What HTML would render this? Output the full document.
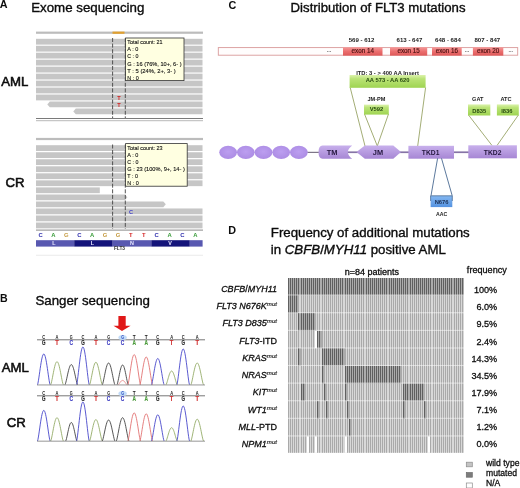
<!DOCTYPE html>
<html lang="en">
<head>
<meta charset="utf-8">
<title>FLT3 mutations figure</title>
<style>
html,body{margin:0;padding:0;background:#fff;}
body{width:520px;height:488px;overflow:hidden;position:relative;}
svg{position:absolute;left:0;top:0;display:block;filter:blur(0.45px);}
text{font-family:"Liberation Sans",sans-serif;fill:#0c0c0c;}
.hv{stroke:#0c0c0c;stroke-width:0.3px;}
.hv2{stroke:#0c0c0c;stroke-width:0.3px;}
.b{font-weight:bold;}
.i{font-style:italic;}
.t13{font-size:13.3px;stroke:#0c0c0c;stroke-width:0.36px;}
.lab{font-size:13.2px;stroke:#0c0c0c;stroke-width:0.55px;}
.tip{font-size:6.1px;fill:#111;stroke:#111;stroke-width:0.12px;}
.seq{font-size:5.9px;font-weight:bold;text-anchor:middle;}
.aa{font-size:5.4px;font-weight:bold;fill:#e8e8ff;text-anchor:middle;}
.ex{font-size:6.3px;text-anchor:middle;fill:#4a1010;stroke:#4a1010;stroke-width:0.15px;}
.exn{font-size:6.1px;font-weight:bold;text-anchor:middle;fill:#222;}
.gb{font-size:5.8px;font-weight:bold;text-anchor:middle;fill:#264a10;}
.cod{font-size:5.6px;font-weight:bold;text-anchor:middle;fill:#222;}
.dom{font-size:7.4px;font-weight:bold;text-anchor:middle;fill:#24163e;}
.gl{font-size:9px;text-anchor:end;stroke:#0c0c0c;stroke-width:0.28px;}
.fq{font-size:9.1px;text-anchor:end;stroke:#0c0c0c;stroke-width:0.28px;}
.sup{font-size:6.1px;font-style:italic;stroke-width:0.12px;}
.lg{font-size:8.6px;stroke:#0c0c0c;stroke-width:0.28px;}
.sq{font-size:5.2px;text-anchor:middle;font-weight:bold;}
</style>
</head>
<body>
<svg width="520" height="488" viewBox="0 0 520 488">
<defs>
<linearGradient id="gGreen" x1="0" y1="0" x2="0" y2="1"><stop offset="0" stop-color="#dcf2ac"/><stop offset="0.3" stop-color="#bae376"/><stop offset="1" stop-color="#9fd452"/></linearGradient>
<linearGradient id="gRed" x1="0" y1="0" x2="0" y2="1"><stop offset="0" stop-color="#f59898"/><stop offset="0.5" stop-color="#eb6e6e"/><stop offset="1" stop-color="#dd5858"/></linearGradient>
<linearGradient id="gBlue" x1="0" y1="0" x2="0" y2="1"><stop offset="0" stop-color="#84b8f2"/><stop offset="1" stop-color="#5592e0"/></linearGradient>
<linearGradient id="gPur" x1="0" y1="0" x2="0" y2="1"><stop offset="0" stop-color="#c8b0ec"/><stop offset="1" stop-color="#a686d4"/></linearGradient>
<radialGradient id="gEll" cx="0.5" cy="0.45" r="0.6"><stop offset="0" stop-color="#bc9ef0"/><stop offset="1" stop-color="#ab8be3"/></radialGradient>
</defs>
<rect x="0" y="0" width="520" height="488" fill="#ffffff"/>

<text x="-0.2" y="8.4" class="b" style="font-size:10.8px">A</text>
<text x="31.2" y="11.6" class="t13">Exome sequencing</text>
<text x="1.2" y="86.3" class="lab">AML</text>
<text x="5.6" y="187.3" class="lab">CR</text>
<rect x="36" y="31.6" width="167" height="2.2" fill="#bcbcbc"/>
<rect x="112.5" y="31.6" width="12" height="2.2" fill="#e0a030"/>
<rect x="36" y="38.8" width="166.5" height="5.8" fill="#c6c6c6"/>
<rect x="36" y="45.77" width="166.5" height="5.8" fill="#c6c6c6"/>
<rect x="36" y="52.74" width="166.5" height="5.8" fill="#c6c6c6"/>
<rect x="36" y="59.71" width="166.5" height="5.8" fill="#c6c6c6"/>
<rect x="36" y="66.68" width="166.5" height="5.8" fill="#c6c6c6"/>
<rect x="36" y="73.65" width="166.5" height="5.8" fill="#c6c6c6"/>
<rect x="36" y="80.62" width="166.5" height="5.8" fill="#c6c6c6"/>
<rect x="36" y="87.59" width="166.5" height="5.8" fill="#c6c6c6"/>
<rect x="36" y="94.56" width="166.5" height="5.8" fill="#c6c6c6"/>
<path d="M49.8,101.53 L202.5,101.53 L202.5,107.33 L49.8,107.33 L47.3,104.43 Z" fill="#c6c6c6"/>
<path d="M75.8,108.5 L202.5,108.5 L202.5,114.3 L75.8,114.3 L73.3,111.4 Z" fill="#c6c6c6"/>
<rect x="36" y="118" width="167" height="1" fill="#7a7a7a"/>
<rect x="36" y="120.2" width="167" height="1" fill="#b8b8b8"/>
<line x1="112.6" y1="38" x2="112.6" y2="118" stroke="#444" stroke-width="0.9" stroke-dasharray="4 1.6"/>
<line x1="125.3" y1="38" x2="125.3" y2="118" stroke="#444" stroke-width="0.9" stroke-dasharray="4 1.6"/>
<text x="119" y="99.6" class="seq" style="fill:#d02020;font-size:5.6px">T</text>
<text x="119" y="106.6" class="seq" style="fill:#d02020;font-size:5.6px">T</text>
<rect x="125.6" y="38" width="58.4" height="42.6" fill="#ffffe1" stroke="#333" stroke-width="0.8"/>
<text x="127.3" y="44.30" class="tip" textLength="35.2" lengthAdjust="spacingAndGlyphs">Total count: 21</text>
<text x="127.3" y="51.38" class="tip" textLength="11" lengthAdjust="spacingAndGlyphs">A : 0</text>
<text x="127.3" y="58.46" class="tip" textLength="11.2" lengthAdjust="spacingAndGlyphs">C : 0</text>
<text x="127.3" y="65.54" class="tip" textLength="54.2" lengthAdjust="spacingAndGlyphs">G : 16 (76%, 10+, 6- )</text>
<text x="127.3" y="72.62" class="tip" textLength="48.5" lengthAdjust="spacingAndGlyphs">T : 5 (24%, 2+, 3- )</text>
<text x="127.3" y="79.70" class="tip" textLength="11.4" lengthAdjust="spacingAndGlyphs">N : 0</text>
<rect x="36" y="137.9" width="167" height="2.2" fill="#bcbcbc"/>
<rect x="36" y="145.2" width="166.5" height="5.8" fill="#c6c6c6"/>
<rect x="36" y="152.23" width="166.5" height="5.8" fill="#c6c6c6"/>
<rect x="36" y="159.26" width="166.5" height="5.8" fill="#c6c6c6"/>
<rect x="36" y="166.29" width="166.5" height="5.8" fill="#c6c6c6"/>
<rect x="36" y="173.32" width="166.5" height="5.8" fill="#c6c6c6"/>
<rect x="36" y="180.35" width="166.5" height="5.8" fill="#c6c6c6"/>
<rect x="36" y="187.38" width="63.8" height="5.8" fill="#c6c6c6"/>
<path d="M36,194.41 L124.9,194.41 L127.4,197.31 L124.9,200.21 L36,200.21 Z" fill="#c6c6c6"/>
<path d="M36,201.44 L163.3,201.44 L165.8,204.34 L163.3,207.24 L36,207.24 Z" fill="#c6c6c6"/>
<rect x="36" y="208.47" width="166.5" height="5.8" fill="#c6c6c6"/>
<rect x="36" y="215.5" width="166.5" height="5.8" fill="#c6c6c6"/>
<rect x="36" y="222.53" width="166.5" height="5.8" fill="#c6c6c6"/>
<line x1="112.6" y1="144.5" x2="112.6" y2="229" stroke="#444" stroke-width="0.9" stroke-dasharray="4 1.6"/>
<line x1="125.3" y1="144.5" x2="125.3" y2="229" stroke="#444" stroke-width="0.9" stroke-dasharray="4 1.6"/>
<text x="131" y="213.6" class="seq" style="fill:#4040c8;font-size:5.6px">C</text>
<rect x="125.6" y="143.6" width="61.6" height="42.6" fill="#ffffe1" stroke="#333" stroke-width="0.8"/>
<text x="127.3" y="149.90" class="tip" textLength="35.2" lengthAdjust="spacingAndGlyphs">Total count: 23</text>
<text x="127.3" y="156.98" class="tip" textLength="11" lengthAdjust="spacingAndGlyphs">A : 0</text>
<text x="127.3" y="164.06" class="tip" textLength="11.2" lengthAdjust="spacingAndGlyphs">C : 0</text>
<text x="127.3" y="171.14" class="tip" textLength="57.5" lengthAdjust="spacingAndGlyphs">G : 23 (100%, 9+, 14- )</text>
<text x="127.3" y="178.22" class="tip" textLength="10.6" lengthAdjust="spacingAndGlyphs">T : 0</text>
<text x="127.3" y="185.30" class="tip" textLength="11.4" lengthAdjust="spacingAndGlyphs">N : 0</text>
<rect x="36" y="229.6" width="167" height="1" fill="#8a8a8a"/>
<text x="40.6" y="237.2" class="seq" style="fill:#2c2cac">C</text>
<text x="53.5" y="237.2" class="seq" style="fill:#3a9c3a">A</text>
<text x="66.4" y="237.2" class="seq" style="fill:#c49a40">G</text>
<text x="79.3" y="237.2" class="seq" style="fill:#2c2cac">C</text>
<text x="92.2" y="237.2" class="seq" style="fill:#3a9c3a">A</text>
<text x="105.1" y="237.2" class="seq" style="fill:#c49a40">G</text>
<text x="118.0" y="237.2" class="seq" style="fill:#c49a40">G</text>
<text x="130.9" y="237.2" class="seq" style="fill:#d42020">T</text>
<text x="143.8" y="237.2" class="seq" style="fill:#d42020">T</text>
<text x="156.7" y="237.2" class="seq" style="fill:#2c2cac">C</text>
<text x="169.6" y="237.2" class="seq" style="fill:#3a9c3a">A</text>
<text x="182.5" y="237.2" class="seq" style="fill:#2c2cac">C</text>
<text x="195.4" y="237.2" class="seq" style="fill:#3a9c3a">A</text>
<rect x="36" y="240.2" width="38.2" height="6.4" fill="#5858b0"/>
<text x="54" y="245.4" class="aa">L</text>
<rect x="74.2" y="240.2" width="38.5" height="6.4" fill="#14147a"/>
<text x="92.5" y="245.4" class="aa">L</text>
<rect x="112.7" y="240.2" width="38.6" height="6.4" fill="#5858b0"/>
<text x="132" y="245.4" class="aa">N</text>
<rect x="151.3" y="240.2" width="38.5" height="6.4" fill="#14147a"/>
<text x="170" y="245.4" class="aa">V</text>
<rect x="189.8" y="240.2" width="12.8" height="6.4" fill="#5858b0"/>
<text x="119.5" y="250.2" style="font-size:4.8px;fill:#333;text-anchor:middle" class="b">FLT3</text>
<rect x="36" y="254.8" width="167" height="0.8" fill="#e4e4e4"/>
<text x="0.1" y="301.8" class="b" style="font-size:10.6px">B</text>
<text x="35.4" y="304.6" class="t13">Sanger sequencing</text>
<text x="1.7" y="372.4" class="lab">AML</text>
<text x="6.8" y="427.4" class="lab">CR</text>
<path d="M118.4,316 L125.7,316 L125.7,325.8 L130.6,325.8 L122,331 L113.5,325.8 L118.4,325.8 Z" fill="#e01818"/>
<rect x="37" y="339.3" width="168" height="1" fill="#777"/>
<ellipse cx="122.6" cy="337.40000000000003" rx="4.2" ry="2.5" fill="#c2dbf8"/>
<text x="43.8" y="339.3" class="sq" textLength="2.9" lengthAdjust="spacingAndGlyphs" style="fill:#222;font-size:5.2px">C</text>
<text x="43.8" y="345.2" class="sq" textLength="3.5" lengthAdjust="spacingAndGlyphs" style="fill:#222;font-size:6.4px;stroke:#222;stroke-width:0.15px">G</text>
<text x="57" y="339.3" class="sq" textLength="2.9" lengthAdjust="spacingAndGlyphs" style="fill:#222;font-size:5.2px">A</text>
<text x="57" y="345.2" class="sq" textLength="3.5" lengthAdjust="spacingAndGlyphs" style="fill:#d03030;font-size:6.4px;stroke:#d03030;stroke-width:0.15px">T</text>
<text x="71.3" y="339.3" class="sq" textLength="2.9" lengthAdjust="spacingAndGlyphs" style="fill:#222;font-size:5.2px">G</text>
<text x="71.3" y="345.2" class="sq" textLength="3.5" lengthAdjust="spacingAndGlyphs" style="fill:#3a3ac0;font-size:6.4px;stroke:#3a3ac0;stroke-width:0.15px">C</text>
<text x="82.9" y="339.3" class="sq" textLength="2.9" lengthAdjust="spacingAndGlyphs" style="fill:#222;font-size:5.2px">C</text>
<text x="82.9" y="345.2" class="sq" textLength="3.5" lengthAdjust="spacingAndGlyphs" style="fill:#222;font-size:6.4px;stroke:#222;stroke-width:0.15px">G</text>
<text x="95.9" y="339.3" class="sq" textLength="2.9" lengthAdjust="spacingAndGlyphs" style="fill:#222;font-size:5.2px">A</text>
<text x="95.9" y="345.2" class="sq" textLength="3.5" lengthAdjust="spacingAndGlyphs" style="fill:#d03030;font-size:6.4px;stroke:#d03030;stroke-width:0.15px">T</text>
<text x="108.6" y="339.3" class="sq" textLength="2.9" lengthAdjust="spacingAndGlyphs" style="fill:#222;font-size:5.2px">G</text>
<text x="108.6" y="345.2" class="sq" textLength="3.5" lengthAdjust="spacingAndGlyphs" style="fill:#3a3ac0;font-size:6.4px;stroke:#3a3ac0;stroke-width:0.15px">C</text>
<text x="122.6" y="339.3" class="sq" textLength="2.9" lengthAdjust="spacingAndGlyphs" style="fill:#3050c0;font-size:5.2px">G</text>
<text x="122.6" y="345.2" class="sq" textLength="3.5" lengthAdjust="spacingAndGlyphs" style="fill:#3a3ac0;font-size:6.4px;stroke:#3a3ac0;stroke-width:0.15px">C</text>
<text x="134.2" y="339.3" class="sq" textLength="2.9" lengthAdjust="spacingAndGlyphs" style="fill:#222;font-size:5.2px">T</text>
<text x="134.2" y="345.2" class="sq" textLength="3.5" lengthAdjust="spacingAndGlyphs" style="fill:#4a9a3a;font-size:6.4px;stroke:#4a9a3a;stroke-width:0.15px">A</text>
<text x="146.2" y="339.3" class="sq" textLength="2.9" lengthAdjust="spacingAndGlyphs" style="fill:#222;font-size:5.2px">T</text>
<text x="146.2" y="345.2" class="sq" textLength="3.5" lengthAdjust="spacingAndGlyphs" style="fill:#4a9a3a;font-size:6.4px;stroke:#4a9a3a;stroke-width:0.15px">A</text>
<text x="157.8" y="339.3" class="sq" textLength="2.9" lengthAdjust="spacingAndGlyphs" style="fill:#222;font-size:5.2px">C</text>
<text x="157.8" y="345.2" class="sq" textLength="3.5" lengthAdjust="spacingAndGlyphs" style="fill:#222;font-size:6.4px;stroke:#222;stroke-width:0.15px">G</text>
<text x="171.6" y="339.3" class="sq" textLength="2.9" lengthAdjust="spacingAndGlyphs" style="fill:#222;font-size:5.2px">A</text>
<text x="171.6" y="345.2" class="sq" textLength="3.5" lengthAdjust="spacingAndGlyphs" style="fill:#d03030;font-size:6.4px;stroke:#d03030;stroke-width:0.15px">T</text>
<text x="183.2" y="339.3" class="sq" textLength="2.9" lengthAdjust="spacingAndGlyphs" style="fill:#222;font-size:5.2px">C</text>
<text x="183.2" y="345.2" class="sq" textLength="3.5" lengthAdjust="spacingAndGlyphs" style="fill:#222;font-size:6.4px;stroke:#222;stroke-width:0.15px">G</text>
<text x="197.2" y="339.3" class="sq" textLength="2.9" lengthAdjust="spacingAndGlyphs" style="fill:#222;font-size:5.2px">A</text>
<text x="197.2" y="345.2" class="sq" textLength="3.5" lengthAdjust="spacingAndGlyphs" style="fill:#d03030;font-size:6.4px;stroke:#d03030;stroke-width:0.15px">T</text>
<polyline points="37.50,384.80 37.95,383.20 38.40,380.75 38.85,377.90 39.30,374.82 39.75,371.66 40.20,368.52 40.65,365.51 41.10,362.71 41.55,360.20 42.00,358.04 42.45,356.31 42.90,355.04 43.35,354.26 43.80,354.00 44.25,354.26 44.70,355.04 45.15,356.31 45.60,358.04 46.05,360.20 46.50,362.71 46.95,365.51 47.40,368.52 47.85,371.66 48.30,374.82 48.75,377.90 49.20,380.75 49.65,383.20 50.10,384.80" fill="none" stroke="#3c3cc8" stroke-width="0.85" stroke-linejoin="round"/>
<polyline points="50.70,384.80 51.15,383.60 51.60,381.76 52.05,379.62 52.50,377.32 52.95,374.95 53.40,372.59 53.85,370.33 54.30,368.23 54.75,366.35 55.20,364.73 55.65,363.43 56.10,362.48 56.55,361.90 57.00,361.70 57.45,361.90 57.90,362.48 58.35,363.43 58.80,364.73 59.25,366.35 59.70,368.23 60.15,370.33 60.60,372.59 61.05,374.95 61.50,377.32 61.95,379.62 62.40,381.76 62.85,383.60 63.30,384.80" fill="none" stroke="#8ea65e" stroke-width="0.85" stroke-linejoin="round"/>
<polyline points="65.00,384.80 65.45,383.75 65.90,382.14 66.35,380.27 66.80,378.26 67.25,376.18 67.70,374.12 68.15,372.15 68.60,370.31 69.05,368.66 69.50,367.25 69.95,366.12 70.40,365.28 70.85,364.77 71.30,364.60 71.75,364.77 72.20,365.28 72.65,366.12 73.10,367.25 73.55,368.66 74.00,370.31 74.45,372.15 74.90,374.12 75.35,376.18 75.80,378.26 76.25,380.27 76.70,382.14 77.15,383.75 77.60,384.80" fill="none" stroke="#383838" stroke-width="0.85" stroke-linejoin="round"/>
<polyline points="76.60,384.80 77.05,382.83 77.50,379.83 77.95,376.33 78.40,372.56 78.85,368.67 79.30,364.82 79.75,361.12 80.20,357.69 80.65,354.60 81.10,351.96 81.55,349.84 82.00,348.27 82.45,347.32 82.90,347.00 83.35,347.32 83.80,348.27 84.25,349.84 84.70,351.96 85.15,354.60 85.60,357.69 86.05,361.12 86.50,364.82 86.95,368.67 87.40,372.56 87.85,376.33 88.30,379.83 88.75,382.83 89.20,384.80" fill="none" stroke="#3c3cc8" stroke-width="0.85" stroke-linejoin="round"/>
<polyline points="89.60,384.80 90.05,383.63 90.50,381.84 90.95,379.76 91.40,377.51 91.85,375.20 92.30,372.91 92.75,370.71 93.20,368.66 93.65,366.83 94.10,365.25 94.55,363.99 95.00,363.06 95.45,362.49 95.90,362.30 96.35,362.49 96.80,363.06 97.25,363.99 97.70,365.25 98.15,366.83 98.60,368.66 99.05,370.71 99.50,372.91 99.95,375.20 100.40,377.51 100.85,379.76 101.30,381.84 101.75,383.63 102.20,384.80" fill="none" stroke="#8ea65e" stroke-width="0.85" stroke-linejoin="round"/>
<polyline points="102.30,384.80 102.75,383.67 103.20,381.93 103.65,379.91 104.10,377.74 104.55,375.50 105.00,373.28 105.45,371.15 105.90,369.16 106.35,367.39 106.80,365.86 107.25,364.64 107.70,363.73 108.15,363.18 108.60,363.00 109.05,363.18 109.50,363.73 109.95,364.64 110.40,365.86 110.85,367.39 111.30,369.16 111.75,371.15 112.20,373.28 112.65,375.50 113.10,377.74 113.55,379.91 114.00,381.93 114.45,383.67 114.90,384.80" fill="none" stroke="#383838" stroke-width="0.85" stroke-linejoin="round"/>
<polyline points="117.00,384.80 117.40,383.77 117.80,382.20 118.20,380.36 118.60,378.39 119.00,376.35 119.40,374.34 119.80,372.40 120.20,370.60 120.60,368.98 121.00,367.60 121.40,366.49 121.80,365.67 122.20,365.17 122.60,365.00 123.00,365.17 123.40,365.67 123.80,366.49 124.20,367.60 124.60,368.98 125.00,370.60 125.40,372.40 125.80,374.34 126.20,376.35 126.60,378.39 127.00,380.36 127.40,382.20 127.80,383.77 128.20,384.80" fill="none" stroke="#383838" stroke-width="0.85" stroke-linejoin="round"/>
<polyline points="127.90,384.80 128.35,383.23 128.80,380.83 129.25,378.03 129.70,375.02 130.15,371.92 130.60,368.84 131.05,365.88 131.50,363.14 131.95,360.68 132.40,358.57 132.85,356.87 133.30,355.62 133.75,354.86 134.20,354.60 134.65,354.86 135.10,355.62 135.55,356.87 136.00,358.57 136.45,360.68 136.90,363.14 137.35,365.88 137.80,368.84 138.25,371.92 138.70,375.02 139.15,378.03 139.60,380.83 140.05,383.23 140.50,384.80" fill="none" stroke="#e06a6a" stroke-width="0.85" stroke-linejoin="round"/>
<polyline points="139.90,384.80 140.35,383.35 140.80,381.14 141.25,378.57 141.70,375.79 142.15,372.94 142.60,370.11 143.05,367.39 143.50,364.86 143.95,362.59 144.40,360.65 144.85,359.09 145.30,357.94 145.75,357.24 146.20,357.00 146.65,357.24 147.10,357.94 147.55,359.09 148.00,360.65 148.45,362.59 148.90,364.86 149.35,367.39 149.80,370.11 150.25,372.94 150.70,375.79 151.15,378.57 151.60,381.14 152.05,383.35 152.50,384.80" fill="none" stroke="#e06a6a" stroke-width="0.85" stroke-linejoin="round"/>
<polyline points="151.50,384.80 151.95,383.43 152.40,381.34 152.85,378.91 153.30,376.28 153.75,373.58 154.20,370.90 154.65,368.33 155.10,365.93 155.55,363.79 156.00,361.95 156.45,360.47 156.90,359.39 157.35,358.72 157.80,358.50 158.25,358.72 158.70,359.39 159.15,360.47 159.60,361.95 160.05,363.79 160.50,365.93 160.95,368.33 161.40,370.90 161.85,373.58 162.30,376.28 162.75,378.91 163.20,381.34 163.65,383.43 164.10,384.80" fill="none" stroke="#3c3cc8" stroke-width="0.85" stroke-linejoin="round"/>
<polyline points="166.00,384.80 166.40,384.08 166.80,382.99 167.20,381.71 167.60,380.33 168.00,378.91 168.40,377.51 168.80,376.16 169.20,374.90 169.60,373.78 170.00,372.81 170.40,372.04 170.80,371.47 171.20,371.12 171.60,371.00 172.00,371.12 172.40,371.47 172.80,372.04 173.20,372.81 173.60,373.78 174.00,374.90 174.40,376.16 174.80,377.51 175.20,378.91 175.60,380.33 176.00,381.71 176.40,382.99 176.80,384.08 177.20,384.80" fill="none" stroke="#8ea65e" stroke-width="0.85" stroke-linejoin="round"/>
<polyline points="176.90,384.80 177.35,382.94 177.80,380.09 178.25,376.78 178.70,373.20 179.15,369.53 179.60,365.88 180.05,362.38 180.50,359.12 180.95,356.20 181.40,353.70 181.85,351.69 182.30,350.21 182.75,349.30 183.20,349.00 183.65,349.30 184.10,350.21 184.55,351.69 185.00,353.70 185.45,356.20 185.90,359.12 186.35,362.38 186.80,365.88 187.25,369.53 187.70,373.20 188.15,376.78 188.60,380.09 189.05,382.94 189.50,384.80" fill="none" stroke="#3c3cc8" stroke-width="0.85" stroke-linejoin="round"/>
<polyline points="190.90,384.80 191.35,383.67 191.80,381.93 192.25,379.91 192.70,377.74 193.15,375.50 193.60,373.28 194.05,371.15 194.50,369.16 194.95,367.39 195.40,365.86 195.85,364.64 196.30,363.73 196.75,363.18 197.20,363.00 197.65,363.18 198.10,363.73 198.55,364.64 199.00,365.86 199.45,367.39 199.90,369.16 200.35,371.15 200.80,373.28 201.25,375.50 201.70,377.74 202.15,379.91 202.60,381.93 203.05,383.67 203.50,384.80" fill="none" stroke="#8ea65e" stroke-width="0.85" stroke-linejoin="round"/>
<polyline points="118.10,384.80 118.55,384.44 119.00,383.90 119.45,383.28 119.90,382.65 120.35,382.04 120.80,381.49 121.25,381.03 121.70,380.69 122.15,380.47 122.60,380.40 123.05,380.47 123.50,380.69 123.95,381.03 124.40,381.49 124.85,382.04 125.30,382.65 125.75,383.28 126.20,383.90 126.65,384.44 127.10,384.80" fill="none" stroke="#e06a6a" stroke-width="0.7"/>
<rect x="37" y="384.5" width="168" height="0.9" fill="#8c8c8c"/>
<rect x="37" y="395.3" width="168" height="1" fill="#777"/>
<ellipse cx="122.6" cy="393.40000000000003" rx="4.2" ry="2.5" fill="#c2dbf8"/>
<text x="43.8" y="395.3" class="sq" textLength="2.9" lengthAdjust="spacingAndGlyphs" style="fill:#222;font-size:5.2px">C</text>
<text x="43.8" y="401.2" class="sq" textLength="3.5" lengthAdjust="spacingAndGlyphs" style="fill:#222;font-size:6.4px;stroke:#222;stroke-width:0.15px">G</text>
<text x="57" y="395.3" class="sq" textLength="2.9" lengthAdjust="spacingAndGlyphs" style="fill:#222;font-size:5.2px">A</text>
<text x="57" y="401.2" class="sq" textLength="3.5" lengthAdjust="spacingAndGlyphs" style="fill:#d03030;font-size:6.4px;stroke:#d03030;stroke-width:0.15px">T</text>
<text x="71.3" y="395.3" class="sq" textLength="2.9" lengthAdjust="spacingAndGlyphs" style="fill:#222;font-size:5.2px">G</text>
<text x="71.3" y="401.2" class="sq" textLength="3.5" lengthAdjust="spacingAndGlyphs" style="fill:#3a3ac0;font-size:6.4px;stroke:#3a3ac0;stroke-width:0.15px">C</text>
<text x="82.9" y="395.3" class="sq" textLength="2.9" lengthAdjust="spacingAndGlyphs" style="fill:#222;font-size:5.2px">C</text>
<text x="82.9" y="401.2" class="sq" textLength="3.5" lengthAdjust="spacingAndGlyphs" style="fill:#222;font-size:6.4px;stroke:#222;stroke-width:0.15px">G</text>
<text x="95.9" y="395.3" class="sq" textLength="2.9" lengthAdjust="spacingAndGlyphs" style="fill:#222;font-size:5.2px">A</text>
<text x="95.9" y="401.2" class="sq" textLength="3.5" lengthAdjust="spacingAndGlyphs" style="fill:#d03030;font-size:6.4px;stroke:#d03030;stroke-width:0.15px">T</text>
<text x="108.6" y="395.3" class="sq" textLength="2.9" lengthAdjust="spacingAndGlyphs" style="fill:#222;font-size:5.2px">G</text>
<text x="108.6" y="401.2" class="sq" textLength="3.5" lengthAdjust="spacingAndGlyphs" style="fill:#3a3ac0;font-size:6.4px;stroke:#3a3ac0;stroke-width:0.15px">C</text>
<text x="122.6" y="395.3" class="sq" textLength="2.9" lengthAdjust="spacingAndGlyphs" style="fill:#3050c0;font-size:5.2px">G</text>
<text x="122.6" y="401.2" class="sq" textLength="3.5" lengthAdjust="spacingAndGlyphs" style="fill:#3a3ac0;font-size:6.4px;stroke:#3a3ac0;stroke-width:0.15px">C</text>
<text x="134.2" y="395.3" class="sq" textLength="2.9" lengthAdjust="spacingAndGlyphs" style="fill:#222;font-size:5.2px">T</text>
<text x="134.2" y="401.2" class="sq" textLength="3.5" lengthAdjust="spacingAndGlyphs" style="fill:#4a9a3a;font-size:6.4px;stroke:#4a9a3a;stroke-width:0.15px">A</text>
<text x="146.2" y="395.3" class="sq" textLength="2.9" lengthAdjust="spacingAndGlyphs" style="fill:#222;font-size:5.2px">T</text>
<text x="146.2" y="401.2" class="sq" textLength="3.5" lengthAdjust="spacingAndGlyphs" style="fill:#4a9a3a;font-size:6.4px;stroke:#4a9a3a;stroke-width:0.15px">A</text>
<text x="157.8" y="395.3" class="sq" textLength="2.9" lengthAdjust="spacingAndGlyphs" style="fill:#222;font-size:5.2px">C</text>
<text x="157.8" y="401.2" class="sq" textLength="3.5" lengthAdjust="spacingAndGlyphs" style="fill:#222;font-size:6.4px;stroke:#222;stroke-width:0.15px">G</text>
<text x="171.6" y="395.3" class="sq" textLength="2.9" lengthAdjust="spacingAndGlyphs" style="fill:#222;font-size:5.2px">A</text>
<text x="171.6" y="401.2" class="sq" textLength="3.5" lengthAdjust="spacingAndGlyphs" style="fill:#d03030;font-size:6.4px;stroke:#d03030;stroke-width:0.15px">T</text>
<text x="183.2" y="395.3" class="sq" textLength="2.9" lengthAdjust="spacingAndGlyphs" style="fill:#222;font-size:5.2px">C</text>
<text x="183.2" y="401.2" class="sq" textLength="3.5" lengthAdjust="spacingAndGlyphs" style="fill:#222;font-size:6.4px;stroke:#222;stroke-width:0.15px">G</text>
<text x="197.2" y="395.3" class="sq" textLength="2.9" lengthAdjust="spacingAndGlyphs" style="fill:#222;font-size:5.2px">A</text>
<text x="197.2" y="401.2" class="sq" textLength="3.5" lengthAdjust="spacingAndGlyphs" style="fill:#d03030;font-size:6.4px;stroke:#d03030;stroke-width:0.15px">T</text>
<polyline points="37.50,441.00 37.95,439.41 38.40,436.98 38.85,434.14 39.30,431.09 39.75,427.95 40.20,424.83 40.65,421.83 41.10,419.05 41.55,416.56 42.00,414.42 42.45,412.70 42.90,411.43 43.35,410.66 43.80,410.40 44.25,410.66 44.70,411.43 45.15,412.70 45.60,414.42 46.05,416.56 46.50,419.05 46.95,421.83 47.40,424.83 47.85,427.95 48.30,431.09 48.75,434.14 49.20,436.98 49.65,439.41 50.10,441.00" fill="none" stroke="#3c3cc8" stroke-width="0.85" stroke-linejoin="round"/>
<polyline points="50.70,441.00 51.15,439.79 51.60,437.94 52.05,435.78 52.50,433.45 52.95,431.06 53.40,428.69 53.85,426.41 54.30,424.29 54.75,422.39 55.20,420.76 55.65,419.45 56.10,418.49 56.55,417.90 57.00,417.70 57.45,417.90 57.90,418.49 58.35,419.45 58.80,420.76 59.25,422.39 59.70,424.29 60.15,426.41 60.60,428.69 61.05,431.06 61.50,433.45 61.95,435.78 62.40,437.94 62.85,439.79 63.30,441.00" fill="none" stroke="#8ea65e" stroke-width="0.85" stroke-linejoin="round"/>
<polyline points="65.70,441.00 66.10,440.04 66.50,438.57 66.90,436.85 67.30,435.01 67.70,433.11 68.10,431.22 68.50,429.41 68.90,427.73 69.30,426.22 69.70,424.93 70.10,423.89 70.50,423.12 70.90,422.66 71.30,422.50 71.70,422.66 72.10,423.12 72.50,423.89 72.90,424.93 73.30,426.22 73.70,427.73 74.10,429.41 74.50,431.22 74.90,433.11 75.30,435.01 75.70,436.85 76.10,438.57 76.50,440.04 76.90,441.00" fill="none" stroke="#383838" stroke-width="0.85" stroke-linejoin="round"/>
<polyline points="76.60,441.00 77.05,438.97 77.50,435.87 77.95,432.26 78.40,428.37 78.85,424.36 79.30,420.39 79.75,416.57 80.20,413.03 80.65,409.85 81.10,407.12 81.55,404.93 82.00,403.31 82.45,402.33 82.90,402.00 83.35,402.33 83.80,403.31 84.25,404.93 84.70,407.12 85.15,409.85 85.60,413.03 86.05,416.57 86.50,420.39 86.95,424.36 87.40,428.37 87.85,432.26 88.30,435.87 88.75,438.97 89.20,441.00" fill="none" stroke="#3c3cc8" stroke-width="0.85" stroke-linejoin="round"/>
<polyline points="89.60,441.00 90.05,439.89 90.50,438.19 90.95,436.20 91.40,434.07 91.85,431.87 92.30,429.69 92.75,427.60 93.20,425.65 93.65,423.91 94.10,422.41 94.55,421.21 95.00,420.32 95.45,419.78 95.90,419.60 96.35,419.78 96.80,420.32 97.25,421.21 97.70,422.41 98.15,423.91 98.60,425.65 99.05,427.60 99.50,429.69 99.95,431.87 100.40,434.07 100.85,436.20 101.30,438.19 101.75,439.89 102.20,441.00" fill="none" stroke="#8ea65e" stroke-width="0.85" stroke-linejoin="round"/>
<polyline points="102.30,441.00 102.75,439.91 103.20,438.24 103.65,436.29 104.10,434.20 104.55,432.04 105.00,429.90 105.45,427.85 105.90,425.94 106.35,424.22 106.80,422.76 107.25,421.58 107.70,420.71 108.15,420.18 108.60,420.00 109.05,420.18 109.50,420.71 109.95,421.58 110.40,422.76 110.85,424.22 111.30,425.94 111.75,427.85 112.20,429.90 112.65,432.04 113.10,434.20 113.55,436.29 114.00,438.24 114.45,439.91 114.90,441.00" fill="none" stroke="#383838" stroke-width="0.85" stroke-linejoin="round"/>
<polyline points="116.30,441.00 116.75,439.79 117.20,437.94 117.65,435.78 118.10,433.45 118.55,431.06 119.00,428.69 119.45,426.41 119.90,424.29 120.35,422.39 120.80,420.76 121.25,419.45 121.70,418.49 122.15,417.90 122.60,417.70 123.05,417.90 123.50,418.49 123.95,419.45 124.40,420.76 124.85,422.39 125.30,424.29 125.75,426.41 126.20,428.69 126.65,431.06 127.10,433.45 127.55,435.78 128.00,437.94 128.45,439.79 128.90,441.00" fill="none" stroke="#383838" stroke-width="0.85" stroke-linejoin="round"/>
<polyline points="127.90,441.00 128.35,439.54 128.80,437.30 129.25,434.70 129.70,431.90 130.15,429.01 130.60,426.15 131.05,423.40 131.50,420.84 131.95,418.55 132.40,416.59 132.85,415.01 133.30,413.85 133.75,413.14 134.20,412.90 134.65,413.14 135.10,413.85 135.55,415.01 136.00,416.59 136.45,418.55 136.90,420.84 137.35,423.40 137.80,426.15 138.25,429.01 138.70,431.90 139.15,434.70 139.60,437.30 140.05,439.54 140.50,441.00" fill="none" stroke="#e06a6a" stroke-width="0.85" stroke-linejoin="round"/>
<polyline points="139.90,441.00 140.35,439.58 140.80,437.42 141.25,434.90 141.70,432.19 142.15,429.40 142.60,426.63 143.05,423.96 143.50,421.49 143.95,419.27 144.40,417.37 144.85,415.84 145.30,414.72 145.75,414.03 146.20,413.80 146.65,414.03 147.10,414.72 147.55,415.84 148.00,417.37 148.45,419.27 148.90,421.49 149.35,423.96 149.80,426.63 150.25,429.40 150.70,432.19 151.15,434.90 151.60,437.42 152.05,439.58 152.50,441.00" fill="none" stroke="#e06a6a" stroke-width="0.85" stroke-linejoin="round"/>
<polyline points="151.50,441.00 151.95,439.64 152.40,437.55 152.85,435.13 153.30,432.51 153.75,429.82 154.20,427.15 154.65,424.59 155.10,422.21 155.55,420.07 156.00,418.24 156.45,416.77 156.90,415.68 157.35,415.02 157.80,414.80 158.25,415.02 158.70,415.68 159.15,416.77 159.60,418.24 160.05,420.07 160.50,422.21 160.95,424.59 161.40,427.15 161.85,429.82 162.30,432.51 162.75,435.13 163.20,437.55 163.65,439.64 164.10,441.00" fill="none" stroke="#3c3cc8" stroke-width="0.85" stroke-linejoin="round"/>
<polyline points="166.00,441.00 166.40,440.31 166.80,439.25 167.20,438.02 167.60,436.69 168.00,435.33 168.40,433.97 168.80,432.67 169.20,431.46 169.60,430.38 170.00,429.45 170.40,428.70 170.80,428.15 171.20,427.81 171.60,427.70 172.00,427.81 172.40,428.15 172.80,428.70 173.20,429.45 173.60,430.38 174.00,431.46 174.40,432.67 174.80,433.97 175.20,435.33 175.60,436.69 176.00,438.02 176.40,439.25 176.80,440.31 177.20,441.00" fill="none" stroke="#8ea65e" stroke-width="0.85" stroke-linejoin="round"/>
<polyline points="176.90,441.00 177.35,439.18 177.80,436.40 178.25,433.16 178.70,429.66 179.15,426.07 179.60,422.50 180.05,419.08 180.50,415.89 180.95,413.04 181.40,410.60 181.85,408.63 182.30,407.18 182.75,406.30 183.20,406.00 183.65,406.30 184.10,407.18 184.55,408.63 185.00,410.60 185.45,413.04 185.90,415.89 186.35,419.08 186.80,422.50 187.25,426.07 187.70,429.66 188.15,433.16 188.60,436.40 189.05,439.18 189.50,441.00" fill="none" stroke="#3c3cc8" stroke-width="0.85" stroke-linejoin="round"/>
<polyline points="190.90,441.00 191.35,439.87 191.80,438.13 192.25,436.11 192.70,433.94 193.15,431.70 193.60,429.48 194.05,427.35 194.50,425.36 194.95,423.59 195.40,422.06 195.85,420.84 196.30,419.93 196.75,419.38 197.20,419.20 197.65,419.38 198.10,419.93 198.55,420.84 199.00,422.06 199.45,423.59 199.90,425.36 200.35,427.35 200.80,429.48 201.25,431.70 201.70,433.94 202.15,436.11 202.60,438.13 203.05,439.87 203.50,441.00" fill="none" stroke="#8ea65e" stroke-width="0.85" stroke-linejoin="round"/>
<rect x="37" y="440.7" width="168" height="0.9" fill="#8c8c8c"/>
<text x="228.4" y="8.5" class="b" style="font-size:10.8px">C</text>
<text x="290.6" y="12.1" class="t13" style="font-size:13.2px">Distribution of FLT3 mutations</text>
<rect x="218.3" y="47.6" width="299.4" height="7.6" fill="#fffdfd" stroke="#d99a9a" stroke-width="0.9"/>
<rect x="343" y="47.3" width="39.5" height="8.3" fill="url(#gRed)"/>
<text x="362.8" y="53" class="ex">exon 14</text>
<text x="361.5" y="41.8" class="exn">569 - 612</text>
<rect x="390" y="47.3" width="37.2" height="8.3" fill="url(#gRed)"/>
<text x="408.6" y="53" class="ex">exon 15</text>
<text x="409.4" y="41.8" class="exn">613 - 647</text>
<rect x="432" y="47.3" width="29.7" height="8.3" fill="url(#gRed)"/>
<text x="446.9" y="53" class="ex">exon 16</text>
<text x="447.9" y="41.8" class="exn">648 - 684</text>
<rect x="472.9" y="47.3" width="30.4" height="8.3" fill="url(#gRed)"/>
<text x="488.1" y="53" class="ex">exon 20</text>
<text x="487.3" y="41.8" class="exn">807 - 847</text>
<text x="329" y="51.6" style="font-size:5.6px;text-anchor:middle;fill:#555" class="b">...</text>
<text x="467" y="51.6" style="font-size:5.6px;text-anchor:middle;fill:#555" class="b">...</text>
<text x="510.8" y="51.6" style="font-size:5.6px;text-anchor:middle;fill:#555" class="b">...</text>
<path d="M350.2,87.5 L365,146 M425.6,87.5 L417.7,146" stroke="#98a466" stroke-width="0.9" fill="none"/>
<path d="M364.5,114 L377.3,146 L388.5,114" stroke="#98a466" stroke-width="0.9" fill="none"/>
<path d="M468.5,115 L492,145.5 M518.4,115 L497,145.5" stroke="#98a466" stroke-width="0.9" fill="none"/>
<rect x="349.6" y="75" width="76" height="12.8" fill="url(#gGreen)"/>
<text x="387.6" y="74.8" class="gb" style="fill:#222">ITD: 3 - &gt; 400 AA Insert</text>
<text x="387.6" y="81.8" class="gb">AA 573 - AA 620</text>
<text x="376.5" y="100.8" class="cod">JM-PM</text>
<rect x="364" y="104.6" width="24.8" height="10" fill="url(#gGreen)"/>
<text x="376.4" y="111.4" class="gb">V592</text>
<text x="477.8" y="100.9" class="cod">GAT</text>
<text x="506" y="100.9" class="cod">ATC</text>
<rect x="468" y="104.4" width="22.3" height="11.1" fill="url(#gGreen)"/>
<rect x="496.9" y="104.4" width="21.9" height="11.1" fill="url(#gGreen)"/>
<text x="479.2" y="112.6" class="gb">D835</text>
<text x="506.8" y="112.6" class="gb">I836</text>
<rect x="300" y="151.8" width="25" height="1.1" fill="#70687c"/><rect x="345" y="151.4" width="130" height="1.7" fill="#8674a6"/>
<ellipse cx="228.14" cy="152.3" rx="8.9" ry="6.6" fill="url(#gEll)"/>
<ellipse cx="245.82" cy="152.3" rx="8.9" ry="6.6" fill="url(#gEll)"/>
<ellipse cx="263.50" cy="152.3" rx="8.9" ry="6.6" fill="url(#gEll)"/>
<ellipse cx="281.18" cy="152.3" rx="8.9" ry="6.6" fill="url(#gEll)"/>
<ellipse cx="298.86" cy="152.3" rx="8.9" ry="6.6" fill="url(#gEll)"/>
<path d="M322.5,145.4 L352.2,145.4 Q343.5,152.1 352.2,158.8 L322.5,158.8 Q318.5,158.8 318.5,152.1 Q318.5,145.4 322.5,145.4 Z" fill="url(#gPur)"/>
<text x="332" y="155.2" class="dom">TM</text>
<path d="M356.5,152.1 L364.8,145.4 L393.3,145.4 L401,152.1 L393.3,158.8 L364.8,158.8 Z" fill="url(#gPur)"/>
<text x="378" y="155.2" class="dom">JM</text>
<rect x="408.4" y="145.8" width="45.6" height="12.9" fill="url(#gPur)"/>
<text x="430.6" y="155.4" class="dom" textLength="17.6" lengthAdjust="spacingAndGlyphs">TKD1</text>
<rect x="468.3" y="145.3" width="48.6" height="13" fill="url(#gPur)"/>
<text x="492.6" y="155.4" class="dom" textLength="17.6" lengthAdjust="spacingAndGlyphs">TKD2</text>
<path d="M437.6,158.3 L431,195.7 M441.5,158.3 L452.2,195.7" stroke="#4a6a92" stroke-width="0.9" fill="none"/>
<rect x="430.6" y="195.8" width="21.7" height="11.3" fill="url(#gBlue)"/>
<path d="M430.6,201 L430.6,195.8 L452.3,195.8 L452.3,201" stroke="#4a6a92" stroke-width="0.8" fill="none"/>
<text x="441.6" y="203.8" class="gb" style="fill:#1a2f55">N676</text>
<text x="441.6" y="216" class="cod" style="font-size:5.2px">AAC</text>
<text x="228.3" y="233.8" class="b" style="font-size:10.8px">D</text>
<text x="270.8" y="236.6" class="t13" style="font-size:13.25px">Frequency of additional mutations</text>
<text x="270.8" y="253.9" class="t13" style="font-size:13.25px">in <tspan class="i">CBFB</tspan>/<tspan class="i">MYH11</tspan> positive AML</text>
<text x="344.8" y="274.6" style="font-size:9px" class="hv2">n=84 patients</text>
<text x="506.8" y="273.2" class="fq">frequency</text>
<rect x="288" y="278.0" width="176" height="17.6" fill="#d8d8d8"/>
<path d="M288,278.0h2v17.6h-2zM290,278.0h2v17.6h-2zM292,278.0h2v17.6h-2zM294,278.0h2v17.6h-2zM296,278.0h2v17.6h-2zM298,278.0h3v17.6h-3zM301,278.0h2v17.6h-2zM303,278.0h2v17.6h-2zM305,278.0h2v17.6h-2zM307,278.0h2v17.6h-2zM309,278.0h2v17.6h-2zM311,278.0h2v17.6h-2zM313,278.0h2v17.6h-2zM315,278.0h2v17.6h-2zM317,278.0h2v17.6h-2zM319,278.0h3v17.6h-3zM322,278.0h2v17.6h-2zM324,278.0h2v17.6h-2zM326,278.0h2v17.6h-2zM328,278.0h2v17.6h-2zM330,278.0h2v17.6h-2zM332,278.0h2v17.6h-2zM334,278.0h2v17.6h-2zM336,278.0h2v17.6h-2zM338,278.0h2v17.6h-2zM340,278.0h2v17.6h-2zM342,278.0h3v17.6h-3zM345,278.0h2v17.6h-2zM347,278.0h2v17.6h-2zM349,278.0h2v17.6h-2zM351,278.0h2v17.6h-2zM353,278.0h2v17.6h-2zM355,278.0h2v17.6h-2zM357,278.0h2v17.6h-2zM359,278.0h2v17.6h-2zM361,278.0h2v17.6h-2zM363,278.0h3v17.6h-3zM366,278.0h2v17.6h-2zM368,278.0h2v17.6h-2zM370,278.0h2v17.6h-2zM372,278.0h2v17.6h-2zM374,278.0h2v17.6h-2zM376,278.0h2v17.6h-2zM378,278.0h2v17.6h-2zM380,278.0h2v17.6h-2zM382,278.0h2v17.6h-2zM384,278.0h2v17.6h-2zM386,278.0h3v17.6h-3zM389,278.0h2v17.6h-2zM391,278.0h2v17.6h-2zM393,278.0h2v17.6h-2zM395,278.0h2v17.6h-2zM397,278.0h2v17.6h-2zM399,278.0h2v17.6h-2zM401,278.0h2v17.6h-2zM403,278.0h2v17.6h-2zM405,278.0h2v17.6h-2zM407,278.0h3v17.6h-3zM410,278.0h2v17.6h-2zM412,278.0h2v17.6h-2zM414,278.0h2v17.6h-2zM416,278.0h2v17.6h-2zM418,278.0h2v17.6h-2zM420,278.0h2v17.6h-2zM422,278.0h2v17.6h-2zM424,278.0h2v17.6h-2zM426,278.0h2v17.6h-2zM428,278.0h2v17.6h-2zM430,278.0h3v17.6h-3zM433,278.0h2v17.6h-2zM435,278.0h2v17.6h-2zM437,278.0h2v17.6h-2zM439,278.0h2v17.6h-2zM441,278.0h2v17.6h-2zM443,278.0h2v17.6h-2zM445,278.0h2v17.6h-2zM447,278.0h2v17.6h-2zM449,278.0h2v17.6h-2zM451,278.0h3v17.6h-3zM454,278.0h2v17.6h-2zM456,278.0h2v17.6h-2zM458,278.0h2v17.6h-2zM460,278.0h2v17.6h-2zM462,278.0h2v17.6h-2z" fill="#acacac"/>
<path d="M288,278.0h1v17.6h-1zM290,278.0h1v17.6h-1zM292,278.0h1v17.6h-1zM294,278.0h1v17.6h-1zM296,278.0h1v17.6h-1zM298,278.0h1v17.6h-1zM301,278.0h1v17.6h-1zM303,278.0h1v17.6h-1zM305,278.0h1v17.6h-1zM307,278.0h1v17.6h-1zM309,278.0h1v17.6h-1zM311,278.0h1v17.6h-1zM313,278.0h1v17.6h-1zM315,278.0h1v17.6h-1zM317,278.0h1v17.6h-1zM319,278.0h1v17.6h-1zM322,278.0h1v17.6h-1zM324,278.0h1v17.6h-1zM326,278.0h1v17.6h-1zM328,278.0h1v17.6h-1zM330,278.0h1v17.6h-1zM332,278.0h1v17.6h-1zM334,278.0h1v17.6h-1zM336,278.0h1v17.6h-1zM338,278.0h1v17.6h-1zM340,278.0h1v17.6h-1zM342,278.0h1v17.6h-1zM345,278.0h1v17.6h-1zM347,278.0h1v17.6h-1zM349,278.0h1v17.6h-1zM351,278.0h1v17.6h-1zM353,278.0h1v17.6h-1zM355,278.0h1v17.6h-1zM357,278.0h1v17.6h-1zM359,278.0h1v17.6h-1zM361,278.0h1v17.6h-1zM363,278.0h1v17.6h-1zM366,278.0h1v17.6h-1zM368,278.0h1v17.6h-1zM370,278.0h1v17.6h-1zM372,278.0h1v17.6h-1zM374,278.0h1v17.6h-1zM376,278.0h1v17.6h-1zM378,278.0h1v17.6h-1zM380,278.0h1v17.6h-1zM382,278.0h1v17.6h-1zM384,278.0h1v17.6h-1zM386,278.0h1v17.6h-1zM389,278.0h1v17.6h-1zM391,278.0h1v17.6h-1zM393,278.0h1v17.6h-1zM395,278.0h1v17.6h-1zM397,278.0h1v17.6h-1zM399,278.0h1v17.6h-1zM401,278.0h1v17.6h-1zM403,278.0h1v17.6h-1zM405,278.0h1v17.6h-1zM407,278.0h1v17.6h-1zM410,278.0h1v17.6h-1zM412,278.0h1v17.6h-1zM414,278.0h1v17.6h-1zM416,278.0h1v17.6h-1zM418,278.0h1v17.6h-1zM420,278.0h1v17.6h-1zM422,278.0h1v17.6h-1zM424,278.0h1v17.6h-1zM426,278.0h1v17.6h-1zM428,278.0h1v17.6h-1zM430,278.0h1v17.6h-1zM433,278.0h1v17.6h-1zM435,278.0h1v17.6h-1zM437,278.0h1v17.6h-1zM439,278.0h1v17.6h-1zM441,278.0h1v17.6h-1zM443,278.0h1v17.6h-1zM445,278.0h1v17.6h-1zM447,278.0h1v17.6h-1zM449,278.0h1v17.6h-1zM451,278.0h1v17.6h-1zM454,278.0h1v17.6h-1zM456,278.0h1v17.6h-1zM458,278.0h1v17.6h-1zM460,278.0h1v17.6h-1zM462,278.0h1v17.6h-1z" fill="#606060"/>
<rect x="288" y="294.45" width="176" height="1.1" fill="#ffffff" opacity="0.5"/>
<rect x="288" y="295.6" width="176" height="17.7" fill="#d8d8d8"/>
<path d="M298,295.6h1v17.7h-1zM301,295.6h1v17.7h-1zM303,295.6h1v17.7h-1zM305,295.6h1v17.7h-1zM307,295.6h1v17.7h-1zM309,295.6h1v17.7h-1zM311,295.6h1v17.7h-1zM313,295.6h1v17.7h-1zM315,295.6h1v17.7h-1zM317,295.6h1v17.7h-1zM319,295.6h1v17.7h-1zM322,295.6h1v17.7h-1zM324,295.6h1v17.7h-1zM326,295.6h1v17.7h-1zM328,295.6h1v17.7h-1zM330,295.6h1v17.7h-1zM332,295.6h1v17.7h-1zM334,295.6h1v17.7h-1zM336,295.6h1v17.7h-1zM338,295.6h1v17.7h-1zM340,295.6h1v17.7h-1zM342,295.6h1v17.7h-1zM345,295.6h1v17.7h-1zM347,295.6h1v17.7h-1zM349,295.6h1v17.7h-1zM351,295.6h1v17.7h-1zM353,295.6h1v17.7h-1zM355,295.6h1v17.7h-1zM357,295.6h1v17.7h-1zM359,295.6h1v17.7h-1zM361,295.6h1v17.7h-1zM363,295.6h1v17.7h-1zM366,295.6h1v17.7h-1zM368,295.6h1v17.7h-1zM370,295.6h1v17.7h-1zM372,295.6h1v17.7h-1zM374,295.6h1v17.7h-1zM376,295.6h1v17.7h-1zM378,295.6h1v17.7h-1zM380,295.6h1v17.7h-1zM382,295.6h1v17.7h-1zM384,295.6h1v17.7h-1zM386,295.6h1v17.7h-1zM389,295.6h1v17.7h-1zM391,295.6h1v17.7h-1zM393,295.6h1v17.7h-1zM395,295.6h1v17.7h-1zM397,295.6h1v17.7h-1zM399,295.6h1v17.7h-1zM401,295.6h1v17.7h-1zM403,295.6h1v17.7h-1zM405,295.6h1v17.7h-1zM407,295.6h1v17.7h-1zM410,295.6h1v17.7h-1zM412,295.6h1v17.7h-1zM414,295.6h1v17.7h-1zM416,295.6h1v17.7h-1zM418,295.6h1v17.7h-1zM420,295.6h1v17.7h-1zM422,295.6h1v17.7h-1zM424,295.6h1v17.7h-1zM426,295.6h1v17.7h-1zM428,295.6h1v17.7h-1zM430,295.6h1v17.7h-1zM433,295.6h1v17.7h-1zM435,295.6h1v17.7h-1zM437,295.6h1v17.7h-1zM439,295.6h1v17.7h-1zM441,295.6h1v17.7h-1zM443,295.6h1v17.7h-1zM445,295.6h1v17.7h-1zM447,295.6h1v17.7h-1zM449,295.6h1v17.7h-1zM451,295.6h1v17.7h-1zM454,295.6h1v17.7h-1zM456,295.6h1v17.7h-1zM458,295.6h1v17.7h-1zM460,295.6h1v17.7h-1zM462,295.6h1v17.7h-1z" fill="#a9a9a9"/>
<path d="M288,295.6h2v17.7h-2zM290,295.6h2v17.7h-2zM292,295.6h2v17.7h-2zM294,295.6h2v17.7h-2zM296,295.6h2v17.7h-2z" fill="#acacac"/>
<path d="M288,295.6h1v17.7h-1zM290,295.6h1v17.7h-1zM292,295.6h1v17.7h-1zM294,295.6h1v17.7h-1zM296,295.6h1v17.7h-1z" fill="#606060"/>
<rect x="288" y="312.15" width="176" height="1.1" fill="#ffffff" opacity="0.5"/>
<rect x="288" y="313.3" width="176" height="17.7" fill="#d8d8d8"/>
<path d="M288,313.3h1v17.7h-1zM290,313.3h1v17.7h-1zM292,313.3h1v17.7h-1zM294,313.3h1v17.7h-1zM296,313.3h1v17.7h-1zM315,313.3h1v17.7h-1zM317,313.3h1v17.7h-1zM319,313.3h1v17.7h-1zM322,313.3h1v17.7h-1zM324,313.3h1v17.7h-1zM326,313.3h1v17.7h-1zM328,313.3h1v17.7h-1zM330,313.3h1v17.7h-1zM332,313.3h1v17.7h-1zM334,313.3h1v17.7h-1zM336,313.3h1v17.7h-1zM338,313.3h1v17.7h-1zM340,313.3h1v17.7h-1zM342,313.3h1v17.7h-1zM345,313.3h1v17.7h-1zM347,313.3h1v17.7h-1zM349,313.3h1v17.7h-1zM351,313.3h1v17.7h-1zM353,313.3h1v17.7h-1zM355,313.3h1v17.7h-1zM357,313.3h1v17.7h-1zM359,313.3h1v17.7h-1zM361,313.3h1v17.7h-1zM363,313.3h1v17.7h-1zM366,313.3h1v17.7h-1zM368,313.3h1v17.7h-1zM370,313.3h1v17.7h-1zM372,313.3h1v17.7h-1zM374,313.3h1v17.7h-1zM376,313.3h1v17.7h-1zM378,313.3h1v17.7h-1zM380,313.3h1v17.7h-1zM382,313.3h1v17.7h-1zM384,313.3h1v17.7h-1zM386,313.3h1v17.7h-1zM389,313.3h1v17.7h-1zM391,313.3h1v17.7h-1zM393,313.3h1v17.7h-1zM395,313.3h1v17.7h-1zM397,313.3h1v17.7h-1zM399,313.3h1v17.7h-1zM401,313.3h1v17.7h-1zM403,313.3h1v17.7h-1zM405,313.3h1v17.7h-1zM407,313.3h1v17.7h-1zM410,313.3h1v17.7h-1zM412,313.3h1v17.7h-1zM414,313.3h1v17.7h-1zM416,313.3h1v17.7h-1zM418,313.3h1v17.7h-1zM420,313.3h1v17.7h-1zM422,313.3h1v17.7h-1zM424,313.3h1v17.7h-1zM426,313.3h1v17.7h-1zM428,313.3h1v17.7h-1zM430,313.3h1v17.7h-1zM433,313.3h1v17.7h-1zM435,313.3h1v17.7h-1zM437,313.3h1v17.7h-1zM439,313.3h1v17.7h-1zM441,313.3h1v17.7h-1zM443,313.3h1v17.7h-1zM445,313.3h1v17.7h-1zM447,313.3h1v17.7h-1zM449,313.3h1v17.7h-1zM451,313.3h1v17.7h-1zM454,313.3h1v17.7h-1zM456,313.3h1v17.7h-1zM458,313.3h1v17.7h-1zM460,313.3h1v17.7h-1zM462,313.3h1v17.7h-1z" fill="#a9a9a9"/>
<path d="M298,313.3h3v17.7h-3zM301,313.3h2v17.7h-2zM303,313.3h2v17.7h-2zM305,313.3h2v17.7h-2zM307,313.3h2v17.7h-2zM309,313.3h2v17.7h-2zM311,313.3h2v17.7h-2zM313,313.3h2v17.7h-2z" fill="#acacac"/>
<path d="M298,313.3h1v17.7h-1zM301,313.3h1v17.7h-1zM303,313.3h1v17.7h-1zM305,313.3h1v17.7h-1zM307,313.3h1v17.7h-1zM309,313.3h1v17.7h-1zM311,313.3h1v17.7h-1zM313,313.3h1v17.7h-1z" fill="#606060"/>
<rect x="288" y="329.85" width="176" height="1.1" fill="#ffffff" opacity="0.5"/>
<rect x="288" y="331.0" width="176" height="17.6" fill="#d8d8d8"/>
<path d="M288,331.0h1v17.6h-1zM290,331.0h1v17.6h-1zM292,331.0h1v17.6h-1zM294,331.0h1v17.6h-1zM296,331.0h1v17.6h-1zM298,331.0h1v17.6h-1zM301,331.0h1v17.6h-1zM303,331.0h1v17.6h-1zM305,331.0h1v17.6h-1zM307,331.0h1v17.6h-1zM309,331.0h1v17.6h-1zM311,331.0h1v17.6h-1zM313,331.0h1v17.6h-1zM322,331.0h1v17.6h-1zM324,331.0h1v17.6h-1zM326,331.0h1v17.6h-1zM328,331.0h1v17.6h-1zM330,331.0h1v17.6h-1zM332,331.0h1v17.6h-1zM334,331.0h1v17.6h-1zM336,331.0h1v17.6h-1zM338,331.0h1v17.6h-1zM340,331.0h1v17.6h-1zM342,331.0h1v17.6h-1zM345,331.0h1v17.6h-1zM347,331.0h1v17.6h-1zM349,331.0h1v17.6h-1zM351,331.0h1v17.6h-1zM353,331.0h1v17.6h-1zM355,331.0h1v17.6h-1zM357,331.0h1v17.6h-1zM359,331.0h1v17.6h-1zM361,331.0h1v17.6h-1zM363,331.0h1v17.6h-1zM366,331.0h1v17.6h-1zM368,331.0h1v17.6h-1zM370,331.0h1v17.6h-1zM372,331.0h1v17.6h-1zM374,331.0h1v17.6h-1zM376,331.0h1v17.6h-1zM378,331.0h1v17.6h-1zM380,331.0h1v17.6h-1zM382,331.0h1v17.6h-1zM384,331.0h1v17.6h-1zM386,331.0h1v17.6h-1zM389,331.0h1v17.6h-1zM391,331.0h1v17.6h-1zM393,331.0h1v17.6h-1zM395,331.0h1v17.6h-1zM397,331.0h1v17.6h-1zM399,331.0h1v17.6h-1zM401,331.0h1v17.6h-1zM403,331.0h1v17.6h-1zM405,331.0h1v17.6h-1zM407,331.0h1v17.6h-1zM410,331.0h1v17.6h-1zM412,331.0h1v17.6h-1zM414,331.0h1v17.6h-1zM416,331.0h1v17.6h-1zM418,331.0h1v17.6h-1zM420,331.0h1v17.6h-1zM422,331.0h1v17.6h-1zM424,331.0h1v17.6h-1zM426,331.0h1v17.6h-1zM428,331.0h1v17.6h-1zM430,331.0h1v17.6h-1zM433,331.0h1v17.6h-1zM435,331.0h1v17.6h-1zM437,331.0h1v17.6h-1zM439,331.0h1v17.6h-1zM441,331.0h1v17.6h-1zM443,331.0h1v17.6h-1zM445,331.0h1v17.6h-1zM447,331.0h1v17.6h-1zM449,331.0h1v17.6h-1zM451,331.0h1v17.6h-1zM454,331.0h1v17.6h-1zM456,331.0h1v17.6h-1zM458,331.0h1v17.6h-1zM460,331.0h1v17.6h-1zM462,331.0h1v17.6h-1z" fill="#a9a9a9"/>
<path d="M317,331.0h2v17.6h-2zM319,331.0h3v17.6h-3z" fill="#acacac"/>
<path d="M317,331.0h1v17.6h-1zM319,331.0h1v17.6h-1z" fill="#606060"/>
<path d="M315,331.0h2v17.6h-2z" fill="#ffffff"/>
<rect x="288" y="347.45" width="176" height="1.1" fill="#ffffff" opacity="0.5"/>
<rect x="288" y="348.6" width="176" height="17.5" fill="#d8d8d8"/>
<path d="M288,348.6h1v17.5h-1zM290,348.6h1v17.5h-1zM292,348.6h1v17.5h-1zM294,348.6h1v17.5h-1zM296,348.6h1v17.5h-1zM301,348.6h1v17.5h-1zM303,348.6h1v17.5h-1zM305,348.6h1v17.5h-1zM307,348.6h1v17.5h-1zM309,348.6h1v17.5h-1zM311,348.6h1v17.5h-1zM313,348.6h1v17.5h-1zM315,348.6h1v17.5h-1zM317,348.6h1v17.5h-1zM319,348.6h1v17.5h-1zM345,348.6h1v17.5h-1zM347,348.6h1v17.5h-1zM349,348.6h1v17.5h-1zM351,348.6h1v17.5h-1zM353,348.6h1v17.5h-1zM355,348.6h1v17.5h-1zM357,348.6h1v17.5h-1zM359,348.6h1v17.5h-1zM361,348.6h1v17.5h-1zM363,348.6h1v17.5h-1zM366,348.6h1v17.5h-1zM368,348.6h1v17.5h-1zM370,348.6h1v17.5h-1zM372,348.6h1v17.5h-1zM374,348.6h1v17.5h-1zM376,348.6h1v17.5h-1zM378,348.6h1v17.5h-1zM380,348.6h1v17.5h-1zM382,348.6h1v17.5h-1zM384,348.6h1v17.5h-1zM386,348.6h1v17.5h-1zM389,348.6h1v17.5h-1zM391,348.6h1v17.5h-1zM393,348.6h1v17.5h-1zM395,348.6h1v17.5h-1zM397,348.6h1v17.5h-1zM399,348.6h1v17.5h-1zM401,348.6h1v17.5h-1zM403,348.6h1v17.5h-1zM405,348.6h1v17.5h-1zM407,348.6h1v17.5h-1zM410,348.6h1v17.5h-1zM412,348.6h1v17.5h-1zM414,348.6h1v17.5h-1zM416,348.6h1v17.5h-1zM418,348.6h1v17.5h-1zM420,348.6h1v17.5h-1zM422,348.6h1v17.5h-1zM424,348.6h1v17.5h-1zM426,348.6h1v17.5h-1zM428,348.6h1v17.5h-1zM430,348.6h1v17.5h-1zM433,348.6h1v17.5h-1zM435,348.6h1v17.5h-1zM437,348.6h1v17.5h-1zM439,348.6h1v17.5h-1zM441,348.6h1v17.5h-1zM443,348.6h1v17.5h-1zM445,348.6h1v17.5h-1zM447,348.6h1v17.5h-1zM449,348.6h1v17.5h-1zM451,348.6h1v17.5h-1zM454,348.6h1v17.5h-1zM456,348.6h1v17.5h-1zM458,348.6h1v17.5h-1zM460,348.6h1v17.5h-1zM462,348.6h1v17.5h-1z" fill="#a9a9a9"/>
<path d="M298,348.6h3v17.5h-3zM322,348.6h2v17.5h-2zM324,348.6h2v17.5h-2zM326,348.6h2v17.5h-2zM328,348.6h2v17.5h-2zM330,348.6h2v17.5h-2zM332,348.6h2v17.5h-2zM334,348.6h2v17.5h-2zM336,348.6h2v17.5h-2zM338,348.6h2v17.5h-2zM340,348.6h2v17.5h-2zM342,348.6h3v17.5h-3z" fill="#acacac"/>
<path d="M298,348.6h1v17.5h-1zM322,348.6h1v17.5h-1zM324,348.6h1v17.5h-1zM326,348.6h1v17.5h-1zM328,348.6h1v17.5h-1zM330,348.6h1v17.5h-1zM332,348.6h1v17.5h-1zM334,348.6h1v17.5h-1zM336,348.6h1v17.5h-1zM338,348.6h1v17.5h-1zM340,348.6h1v17.5h-1zM342,348.6h1v17.5h-1z" fill="#606060"/>
<rect x="288" y="364.95" width="176" height="1.1" fill="#ffffff" opacity="0.5"/>
<rect x="288" y="366.1" width="176" height="17.6" fill="#d8d8d8"/>
<path d="M288,366.1h1v17.6h-1zM290,366.1h1v17.6h-1zM292,366.1h1v17.6h-1zM294,366.1h1v17.6h-1zM296,366.1h1v17.6h-1zM298,366.1h1v17.6h-1zM301,366.1h1v17.6h-1zM303,366.1h1v17.6h-1zM305,366.1h1v17.6h-1zM307,366.1h1v17.6h-1zM309,366.1h1v17.6h-1zM311,366.1h1v17.6h-1zM313,366.1h1v17.6h-1zM315,366.1h1v17.6h-1zM317,366.1h1v17.6h-1zM319,366.1h1v17.6h-1zM324,366.1h1v17.6h-1zM326,366.1h1v17.6h-1zM328,366.1h1v17.6h-1zM330,366.1h1v17.6h-1zM332,366.1h1v17.6h-1zM334,366.1h1v17.6h-1zM336,366.1h1v17.6h-1zM338,366.1h1v17.6h-1zM340,366.1h1v17.6h-1zM342,366.1h1v17.6h-1zM401,366.1h1v17.6h-1zM403,366.1h1v17.6h-1zM405,366.1h1v17.6h-1zM407,366.1h1v17.6h-1zM410,366.1h1v17.6h-1zM412,366.1h1v17.6h-1zM414,366.1h1v17.6h-1zM416,366.1h1v17.6h-1zM418,366.1h1v17.6h-1zM420,366.1h1v17.6h-1zM422,366.1h1v17.6h-1zM424,366.1h1v17.6h-1zM426,366.1h1v17.6h-1zM428,366.1h1v17.6h-1zM430,366.1h1v17.6h-1zM433,366.1h1v17.6h-1zM435,366.1h1v17.6h-1zM437,366.1h1v17.6h-1zM439,366.1h1v17.6h-1zM441,366.1h1v17.6h-1zM443,366.1h1v17.6h-1zM445,366.1h1v17.6h-1zM447,366.1h1v17.6h-1zM449,366.1h1v17.6h-1zM451,366.1h1v17.6h-1zM454,366.1h1v17.6h-1zM456,366.1h1v17.6h-1zM458,366.1h1v17.6h-1zM460,366.1h1v17.6h-1zM462,366.1h1v17.6h-1z" fill="#a9a9a9"/>
<path d="M322,366.1h2v17.6h-2zM345,366.1h2v17.6h-2zM347,366.1h2v17.6h-2zM349,366.1h2v17.6h-2zM351,366.1h2v17.6h-2zM353,366.1h2v17.6h-2zM355,366.1h2v17.6h-2zM357,366.1h2v17.6h-2zM359,366.1h2v17.6h-2zM361,366.1h2v17.6h-2zM363,366.1h3v17.6h-3zM366,366.1h2v17.6h-2zM368,366.1h2v17.6h-2zM370,366.1h2v17.6h-2zM372,366.1h2v17.6h-2zM374,366.1h2v17.6h-2zM376,366.1h2v17.6h-2zM378,366.1h2v17.6h-2zM380,366.1h2v17.6h-2zM382,366.1h2v17.6h-2zM384,366.1h2v17.6h-2zM386,366.1h3v17.6h-3zM389,366.1h2v17.6h-2zM391,366.1h2v17.6h-2zM393,366.1h2v17.6h-2zM395,366.1h2v17.6h-2zM397,366.1h2v17.6h-2zM399,366.1h2v17.6h-2z" fill="#acacac"/>
<path d="M322,366.1h1v17.6h-1zM345,366.1h1v17.6h-1zM347,366.1h1v17.6h-1zM349,366.1h1v17.6h-1zM351,366.1h1v17.6h-1zM353,366.1h1v17.6h-1zM355,366.1h1v17.6h-1zM357,366.1h1v17.6h-1zM359,366.1h1v17.6h-1zM361,366.1h1v17.6h-1zM363,366.1h1v17.6h-1zM366,366.1h1v17.6h-1zM368,366.1h1v17.6h-1zM370,366.1h1v17.6h-1zM372,366.1h1v17.6h-1zM374,366.1h1v17.6h-1zM376,366.1h1v17.6h-1zM378,366.1h1v17.6h-1zM380,366.1h1v17.6h-1zM382,366.1h1v17.6h-1zM384,366.1h1v17.6h-1zM386,366.1h1v17.6h-1zM389,366.1h1v17.6h-1zM391,366.1h1v17.6h-1zM393,366.1h1v17.6h-1zM395,366.1h1v17.6h-1zM397,366.1h1v17.6h-1zM399,366.1h1v17.6h-1z" fill="#606060"/>
<rect x="288" y="382.55" width="176" height="1.1" fill="#ffffff" opacity="0.5"/>
<rect x="288" y="383.7" width="176" height="17.6" fill="#d8d8d8"/>
<path d="M288,383.7h1v17.6h-1zM290,383.7h1v17.6h-1zM292,383.7h1v17.6h-1zM294,383.7h1v17.6h-1zM296,383.7h1v17.6h-1zM298,383.7h1v17.6h-1zM305,383.7h1v17.6h-1zM307,383.7h1v17.6h-1zM309,383.7h1v17.6h-1zM311,383.7h1v17.6h-1zM313,383.7h1v17.6h-1zM315,383.7h1v17.6h-1zM317,383.7h1v17.6h-1zM319,383.7h1v17.6h-1zM322,383.7h1v17.6h-1zM326,383.7h1v17.6h-1zM328,383.7h1v17.6h-1zM330,383.7h1v17.6h-1zM332,383.7h1v17.6h-1zM334,383.7h1v17.6h-1zM336,383.7h1v17.6h-1zM338,383.7h1v17.6h-1zM340,383.7h1v17.6h-1zM342,383.7h1v17.6h-1zM347,383.7h1v17.6h-1zM349,383.7h1v17.6h-1zM351,383.7h1v17.6h-1zM353,383.7h1v17.6h-1zM355,383.7h1v17.6h-1zM357,383.7h1v17.6h-1zM359,383.7h1v17.6h-1zM361,383.7h1v17.6h-1zM363,383.7h1v17.6h-1zM366,383.7h1v17.6h-1zM368,383.7h1v17.6h-1zM370,383.7h1v17.6h-1zM372,383.7h1v17.6h-1zM374,383.7h1v17.6h-1zM376,383.7h1v17.6h-1zM378,383.7h1v17.6h-1zM380,383.7h1v17.6h-1zM382,383.7h1v17.6h-1zM384,383.7h1v17.6h-1zM386,383.7h1v17.6h-1zM389,383.7h1v17.6h-1zM391,383.7h1v17.6h-1zM393,383.7h1v17.6h-1zM395,383.7h1v17.6h-1zM397,383.7h1v17.6h-1zM399,383.7h1v17.6h-1zM401,383.7h1v17.6h-1zM424,383.7h1v17.6h-1zM426,383.7h1v17.6h-1zM428,383.7h1v17.6h-1zM430,383.7h1v17.6h-1zM433,383.7h1v17.6h-1zM435,383.7h1v17.6h-1zM437,383.7h1v17.6h-1zM439,383.7h1v17.6h-1zM441,383.7h1v17.6h-1zM443,383.7h1v17.6h-1zM445,383.7h1v17.6h-1zM447,383.7h1v17.6h-1zM449,383.7h1v17.6h-1zM451,383.7h1v17.6h-1zM454,383.7h1v17.6h-1zM456,383.7h1v17.6h-1zM458,383.7h1v17.6h-1zM460,383.7h1v17.6h-1zM462,383.7h1v17.6h-1z" fill="#a9a9a9"/>
<path d="M301,383.7h2v17.6h-2zM303,383.7h2v17.6h-2zM324,383.7h2v17.6h-2zM345,383.7h2v17.6h-2zM403,383.7h2v17.6h-2zM405,383.7h2v17.6h-2zM407,383.7h3v17.6h-3zM410,383.7h2v17.6h-2zM412,383.7h2v17.6h-2zM414,383.7h2v17.6h-2zM416,383.7h2v17.6h-2zM418,383.7h2v17.6h-2zM420,383.7h2v17.6h-2zM422,383.7h2v17.6h-2z" fill="#acacac"/>
<path d="M301,383.7h1v17.6h-1zM303,383.7h1v17.6h-1zM324,383.7h1v17.6h-1zM345,383.7h1v17.6h-1zM403,383.7h1v17.6h-1zM405,383.7h1v17.6h-1zM407,383.7h1v17.6h-1zM410,383.7h1v17.6h-1zM412,383.7h1v17.6h-1zM414,383.7h1v17.6h-1zM416,383.7h1v17.6h-1zM418,383.7h1v17.6h-1zM420,383.7h1v17.6h-1zM422,383.7h1v17.6h-1z" fill="#606060"/>
<rect x="288" y="400.15" width="176" height="1.1" fill="#ffffff" opacity="0.5"/>
<rect x="288" y="401.3" width="176" height="17.6" fill="#d8d8d8"/>
<path d="M288,401.3h1v17.6h-1zM290,401.3h1v17.6h-1zM292,401.3h1v17.6h-1zM294,401.3h1v17.6h-1zM296,401.3h1v17.6h-1zM298,401.3h1v17.6h-1zM301,401.3h1v17.6h-1zM303,401.3h1v17.6h-1zM305,401.3h1v17.6h-1zM307,401.3h1v17.6h-1zM309,401.3h1v17.6h-1zM311,401.3h1v17.6h-1zM313,401.3h1v17.6h-1zM315,401.3h1v17.6h-1zM319,401.3h1v17.6h-1zM322,401.3h1v17.6h-1zM324,401.3h1v17.6h-1zM328,401.3h1v17.6h-1zM330,401.3h1v17.6h-1zM332,401.3h1v17.6h-1zM334,401.3h1v17.6h-1zM336,401.3h1v17.6h-1zM338,401.3h1v17.6h-1zM340,401.3h1v17.6h-1zM342,401.3h1v17.6h-1zM345,401.3h1v17.6h-1zM349,401.3h1v17.6h-1zM351,401.3h1v17.6h-1zM353,401.3h1v17.6h-1zM355,401.3h1v17.6h-1zM357,401.3h1v17.6h-1zM359,401.3h1v17.6h-1zM361,401.3h1v17.6h-1zM363,401.3h1v17.6h-1zM366,401.3h1v17.6h-1zM368,401.3h1v17.6h-1zM370,401.3h1v17.6h-1zM372,401.3h1v17.6h-1zM374,401.3h1v17.6h-1zM376,401.3h1v17.6h-1zM378,401.3h1v17.6h-1zM380,401.3h1v17.6h-1zM382,401.3h1v17.6h-1zM384,401.3h1v17.6h-1zM386,401.3h1v17.6h-1zM389,401.3h1v17.6h-1zM391,401.3h1v17.6h-1zM393,401.3h1v17.6h-1zM395,401.3h1v17.6h-1zM397,401.3h1v17.6h-1zM399,401.3h1v17.6h-1zM401,401.3h1v17.6h-1zM405,401.3h1v17.6h-1zM407,401.3h1v17.6h-1zM410,401.3h1v17.6h-1zM412,401.3h1v17.6h-1zM414,401.3h1v17.6h-1zM416,401.3h1v17.6h-1zM418,401.3h1v17.6h-1zM420,401.3h1v17.6h-1zM422,401.3h1v17.6h-1zM426,401.3h1v17.6h-1zM428,401.3h1v17.6h-1zM430,401.3h1v17.6h-1zM433,401.3h1v17.6h-1zM435,401.3h1v17.6h-1zM437,401.3h1v17.6h-1zM439,401.3h1v17.6h-1zM441,401.3h1v17.6h-1zM443,401.3h1v17.6h-1zM445,401.3h1v17.6h-1zM447,401.3h1v17.6h-1zM449,401.3h1v17.6h-1zM451,401.3h1v17.6h-1zM454,401.3h1v17.6h-1zM456,401.3h1v17.6h-1zM458,401.3h1v17.6h-1zM460,401.3h1v17.6h-1zM462,401.3h1v17.6h-1z" fill="#a9a9a9"/>
<path d="M317,401.3h2v17.6h-2zM326,401.3h2v17.6h-2zM347,401.3h2v17.6h-2zM403,401.3h2v17.6h-2zM424,401.3h2v17.6h-2z" fill="#acacac"/>
<path d="M317,401.3h1v17.6h-1zM326,401.3h1v17.6h-1zM347,401.3h1v17.6h-1zM403,401.3h1v17.6h-1zM424,401.3h1v17.6h-1z" fill="#606060"/>
<rect x="288" y="417.75" width="176" height="1.1" fill="#ffffff" opacity="0.5"/>
<rect x="288" y="418.9" width="176" height="17.6" fill="#d8d8d8"/>
<path d="M288,418.9h1v17.6h-1zM290,418.9h1v17.6h-1zM292,418.9h1v17.6h-1zM294,418.9h1v17.6h-1zM296,418.9h1v17.6h-1zM298,418.9h1v17.6h-1zM301,418.9h1v17.6h-1zM303,418.9h1v17.6h-1zM305,418.9h1v17.6h-1zM307,418.9h1v17.6h-1zM309,418.9h1v17.6h-1zM311,418.9h1v17.6h-1zM313,418.9h1v17.6h-1zM315,418.9h1v17.6h-1zM317,418.9h1v17.6h-1zM319,418.9h1v17.6h-1zM322,418.9h1v17.6h-1zM324,418.9h1v17.6h-1zM326,418.9h1v17.6h-1zM328,418.9h1v17.6h-1zM330,418.9h1v17.6h-1zM332,418.9h1v17.6h-1zM334,418.9h1v17.6h-1zM336,418.9h1v17.6h-1zM338,418.9h1v17.6h-1zM340,418.9h1v17.6h-1zM342,418.9h1v17.6h-1zM345,418.9h1v17.6h-1zM347,418.9h1v17.6h-1zM351,418.9h1v17.6h-1zM353,418.9h1v17.6h-1zM355,418.9h1v17.6h-1zM357,418.9h1v17.6h-1zM359,418.9h1v17.6h-1zM361,418.9h1v17.6h-1zM363,418.9h1v17.6h-1zM366,418.9h1v17.6h-1zM368,418.9h1v17.6h-1zM370,418.9h1v17.6h-1zM372,418.9h1v17.6h-1zM374,418.9h1v17.6h-1zM376,418.9h1v17.6h-1zM378,418.9h1v17.6h-1zM380,418.9h1v17.6h-1zM382,418.9h1v17.6h-1zM384,418.9h1v17.6h-1zM386,418.9h1v17.6h-1zM389,418.9h1v17.6h-1zM391,418.9h1v17.6h-1zM393,418.9h1v17.6h-1zM395,418.9h1v17.6h-1zM397,418.9h1v17.6h-1zM399,418.9h1v17.6h-1zM401,418.9h1v17.6h-1zM403,418.9h1v17.6h-1zM405,418.9h1v17.6h-1zM407,418.9h1v17.6h-1zM410,418.9h1v17.6h-1zM412,418.9h1v17.6h-1zM414,418.9h1v17.6h-1zM416,418.9h1v17.6h-1zM418,418.9h1v17.6h-1zM420,418.9h1v17.6h-1zM422,418.9h1v17.6h-1zM424,418.9h1v17.6h-1zM426,418.9h1v17.6h-1zM428,418.9h1v17.6h-1zM430,418.9h1v17.6h-1zM433,418.9h1v17.6h-1zM435,418.9h1v17.6h-1zM437,418.9h1v17.6h-1zM439,418.9h1v17.6h-1zM441,418.9h1v17.6h-1zM443,418.9h1v17.6h-1zM445,418.9h1v17.6h-1zM447,418.9h1v17.6h-1zM449,418.9h1v17.6h-1zM451,418.9h1v17.6h-1zM454,418.9h1v17.6h-1zM456,418.9h1v17.6h-1zM458,418.9h1v17.6h-1zM460,418.9h1v17.6h-1zM462,418.9h1v17.6h-1z" fill="#a9a9a9"/>
<path d="M349,418.9h2v17.6h-2z" fill="#acacac"/>
<path d="M349,418.9h1v17.6h-1z" fill="#606060"/>
<rect x="288" y="435.35" width="176" height="1.1" fill="#ffffff" opacity="0.5"/>
<rect x="288" y="436.5" width="176" height="16.3" fill="#d8d8d8"/>
<path d="M288,436.5h1v16.3h-1zM290,436.5h1v16.3h-1zM292,436.5h1v16.3h-1zM294,436.5h1v16.3h-1zM296,436.5h1v16.3h-1zM298,436.5h1v16.3h-1zM301,436.5h1v16.3h-1zM303,436.5h1v16.3h-1zM305,436.5h1v16.3h-1zM309,436.5h1v16.3h-1zM311,436.5h1v16.3h-1zM313,436.5h1v16.3h-1zM317,436.5h1v16.3h-1zM319,436.5h1v16.3h-1zM322,436.5h1v16.3h-1zM324,436.5h1v16.3h-1zM326,436.5h1v16.3h-1zM328,436.5h1v16.3h-1zM330,436.5h1v16.3h-1zM332,436.5h1v16.3h-1zM334,436.5h1v16.3h-1zM336,436.5h1v16.3h-1zM338,436.5h1v16.3h-1zM340,436.5h1v16.3h-1zM342,436.5h1v16.3h-1zM347,436.5h1v16.3h-1zM349,436.5h1v16.3h-1zM351,436.5h1v16.3h-1zM353,436.5h1v16.3h-1zM355,436.5h1v16.3h-1zM357,436.5h1v16.3h-1zM359,436.5h1v16.3h-1zM361,436.5h1v16.3h-1zM363,436.5h1v16.3h-1zM366,436.5h1v16.3h-1zM368,436.5h1v16.3h-1zM370,436.5h1v16.3h-1zM372,436.5h1v16.3h-1zM374,436.5h1v16.3h-1zM376,436.5h1v16.3h-1zM378,436.5h1v16.3h-1zM380,436.5h1v16.3h-1zM382,436.5h1v16.3h-1zM384,436.5h1v16.3h-1zM386,436.5h1v16.3h-1zM389,436.5h1v16.3h-1zM391,436.5h1v16.3h-1zM393,436.5h1v16.3h-1zM395,436.5h1v16.3h-1zM397,436.5h1v16.3h-1zM399,436.5h1v16.3h-1zM401,436.5h1v16.3h-1zM403,436.5h1v16.3h-1zM405,436.5h1v16.3h-1zM407,436.5h1v16.3h-1zM410,436.5h1v16.3h-1zM412,436.5h1v16.3h-1zM414,436.5h1v16.3h-1zM416,436.5h1v16.3h-1zM418,436.5h1v16.3h-1zM420,436.5h1v16.3h-1zM422,436.5h1v16.3h-1zM424,436.5h1v16.3h-1zM426,436.5h1v16.3h-1zM430,436.5h1v16.3h-1zM433,436.5h1v16.3h-1zM435,436.5h1v16.3h-1zM437,436.5h1v16.3h-1zM439,436.5h1v16.3h-1zM441,436.5h1v16.3h-1zM443,436.5h1v16.3h-1zM445,436.5h1v16.3h-1zM447,436.5h1v16.3h-1zM449,436.5h1v16.3h-1zM451,436.5h1v16.3h-1zM454,436.5h1v16.3h-1zM456,436.5h1v16.3h-1zM458,436.5h1v16.3h-1zM460,436.5h1v16.3h-1zM462,436.5h1v16.3h-1z" fill="#a9a9a9"/>
<path d="M307,436.5h2v16.3h-2zM315,436.5h2v16.3h-2zM345,436.5h2v16.3h-2zM428,436.5h2v16.3h-2z" fill="#ffffff"/>
<text x="277" y="291.8" class="gl"><tspan class="i">CBFB</tspan>/<tspan class="i">MYH11</tspan></text>
<text x="277" y="309.4" class="gl"><tspan class="i">FLT3 N676K</tspan><tspan class="sup" dy="-3.1">mut</tspan></text>
<text x="277" y="326.4" class="gl"><tspan class="i">FLT3 D835</tspan><tspan class="sup" dy="-3.1">mut</tspan></text>
<text x="277" y="343.7" class="gl"><tspan class="i">FLT3</tspan>-ITD</text>
<text x="277" y="360.8" class="gl"><tspan class="i">KRAS</tspan><tspan class="sup" dy="-3.1">mut</tspan></text>
<text x="277" y="378.4" class="gl"><tspan class="i">NRAS</tspan><tspan class="sup" dy="-3.1">mut</tspan></text>
<text x="277" y="395.4" class="gl"><tspan class="i">KIT</tspan><tspan class="sup" dy="-3.1">mut</tspan></text>
<text x="277" y="412.7" class="gl"><tspan class="i">WT1</tspan><tspan class="sup" dy="-3.1">mut</tspan></text>
<text x="277" y="429.8" class="gl"><tspan class="i">MLL</tspan>-PTD</text>
<text x="277" y="447.2" class="gl"><tspan class="i">NPM1</tspan><tspan class="sup" dy="-3.1">mut</tspan></text>
<text x="497.2" y="292.8" class="fq">100%</text>
<text x="497.2" y="310.3" class="fq">6.0%</text>
<text x="497.2" y="327.3" class="fq">9.5%</text>
<text x="497.2" y="344.5" class="fq">2.4%</text>
<text x="497.2" y="361.6" class="fq">14.3%</text>
<text x="497.2" y="378.9" class="fq">34.5%</text>
<text x="497.2" y="396.2" class="fq">17.9%</text>
<text x="497.2" y="413.2" class="fq">7.1%</text>
<text x="497.2" y="430.4" class="fq">1.2%</text>
<text x="497.2" y="447.4" class="fq">0.0%</text>
<rect x="466.3" y="462.2" width="6" height="4.6" fill="#c4c4c4" stroke="#8c8c8c" stroke-width="0.7"/>
<rect x="466.3" y="472.6" width="6" height="4.6" fill="#7c7c7c" stroke="#6a6a6a" stroke-width="0.7"/>
<rect x="466.3" y="483" width="6" height="5" fill="#ffffff" stroke="#8c8c8c" stroke-width="0.7"/>
<text x="486" y="466" class="lg">wild type</text>
<text x="486" y="476.3" class="lg">mutated</text>
<text x="486" y="486.3" class="lg">N/A</text>
</svg>
</body>
</html>
